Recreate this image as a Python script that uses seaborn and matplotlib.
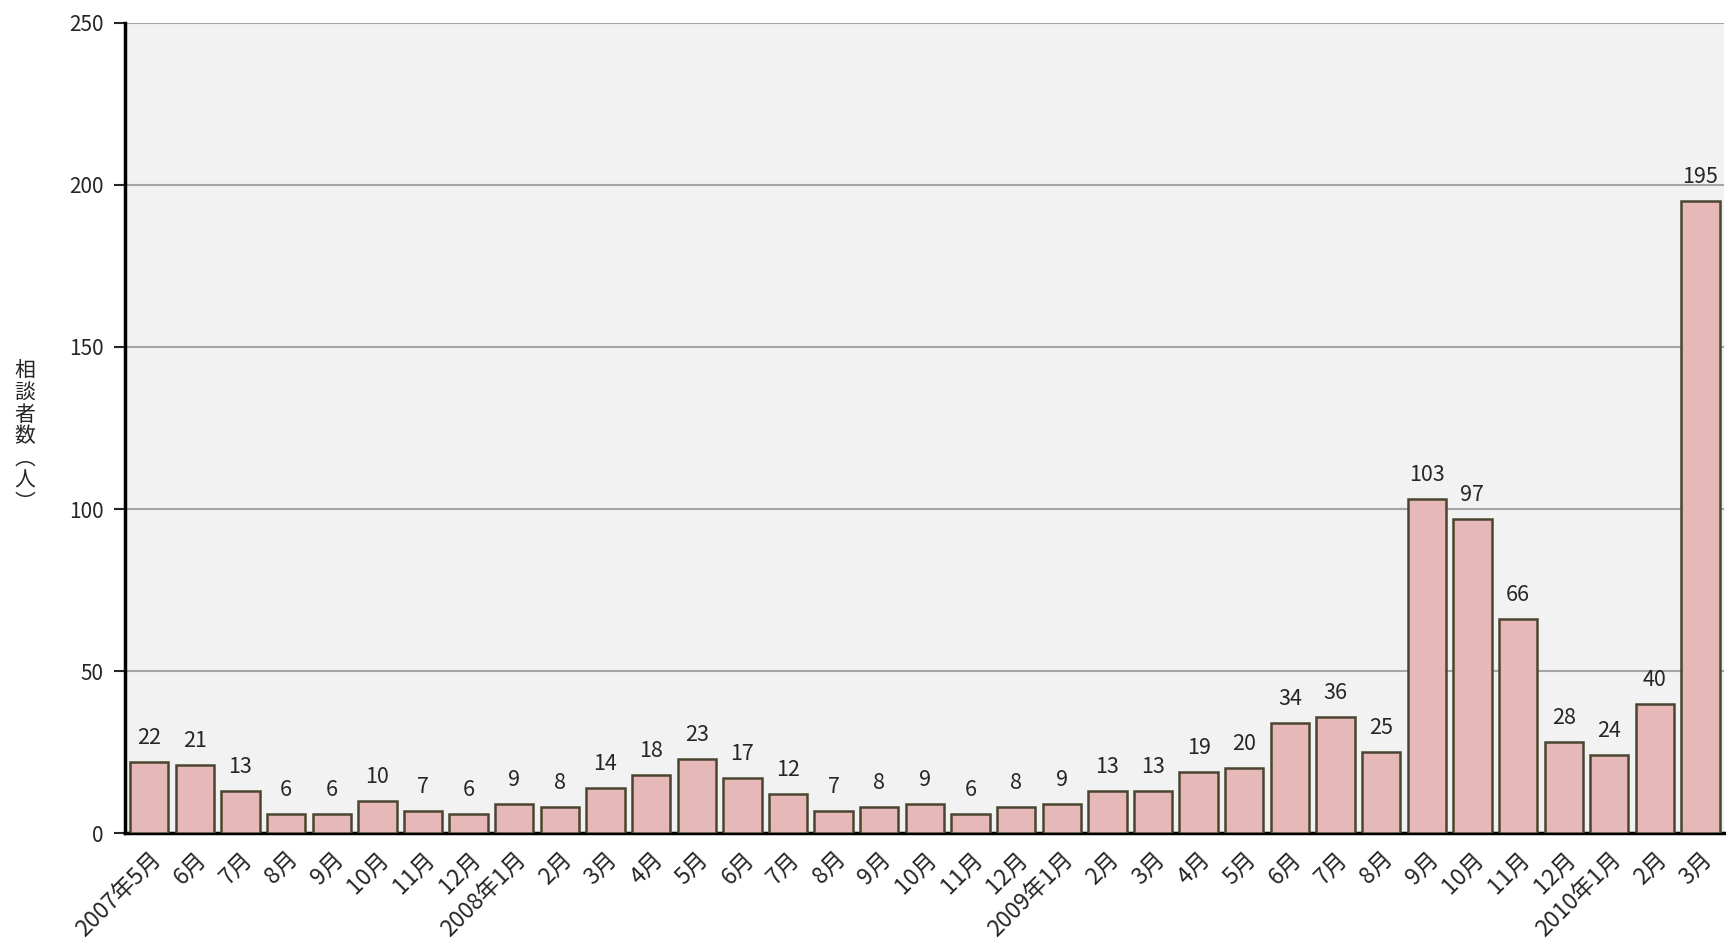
import pandas as pd
import matplotlib
matplotlib.use("Agg")
import matplotlib.pyplot as plt
import seaborn as sns

# Data
months = ["2007年5月", "6月", "7月", "8月", "9月", "10月", "11月", "12月",
          "2008年1月", "2月", "3月", "4月", "5月", "6月", "7月", "8月", "9月", "10月", "11月", "12月",
          "2009年1月", "2月", "3月", "4月", "5月", "6月", "7月", "8月", "9月", "10月", "11月", "12月",
          "2010年1月", "2月", "3月"]
counts = [22, 21, 13, 6, 6, 10, 7, 6,
          9, 8, 14, 18, 23, 17, 12, 7, 8, 9, 6, 8,
          9, 13, 13, 19, 20, 34, 36, 25, 103, 97, 66, 28,
          24, 40, 195]
yticks = [0, 50, 100, 150, 200, 250]

# month names repeat across years, so bars are keyed by position
df = pd.DataFrame({"pos": range(len(months)), "count": counts})

sns.set_theme(style="white")
plt.rcParams['font.family'] = ['Noto Sans CJK JP', 'DejaVu Sans']

fig = plt.figure(figsize=(17.26, 9.49), dpi=100)
ax = fig.add_axes([0.0727, 0.122, 0.9263, 0.854])
ax.set_facecolor("#f2f2f2")

sns.barplot(x="pos", y="count", data=df, color="#e6b8b7", edgecolor="#4a4530",
            linewidth=1.8, width=0.84, saturation=1, errorbar=None, ax=ax, zorder=3)

# Value labels
for i, v in enumerate(counts):
    ax.text(i, v + 4, str(v), ha="center", va="bottom", fontsize=15.5, color="#262626")

ax.set_ylim(0, 250)
ax.set_xlim(-0.52, len(counts) - 0.48)
ax.set_yticks(yticks)
ax.yaxis.grid(True, color="#a6a6a6", linewidth=1.5, zorder=0)
ax.set_axisbelow(True)

ax.set_xticks(range(len(months)))
ax.set_xticklabels(months, rotation=45, ha="right", rotation_mode="anchor", fontsize=16.5)
ax.tick_params(axis="x", length=0, pad=10)
ax.tick_params(axis="y", length=8, width=1.5, direction="out", labelsize=15, pad=8, left=True)

for s in ["top", "right"]:
    ax.spines[s].set_visible(False)
for s in ["left", "bottom"]:
    ax.spines[s].set_color("black")
    ax.spines[s].set_linewidth(2.5)

ax.set_xlabel("")
ax.set_ylabel("")
fig.text(0.0145, 0.54, "相\n談\n者\n数\n︵\n人\n︶", ha="center", va="center",
         fontsize=15, linespacing=1.0)

plt.savefig("out.png", dpi=100)
